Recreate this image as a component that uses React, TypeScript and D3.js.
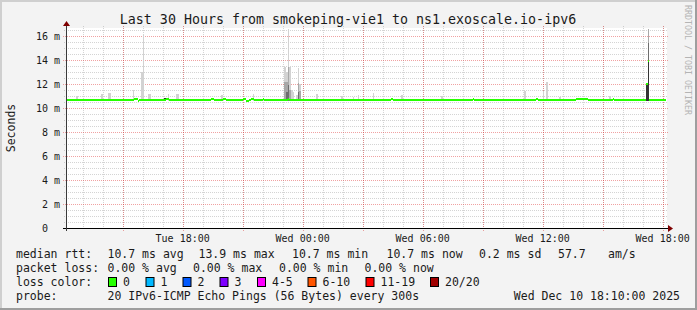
import React from "react";
import * as d3 from "d3";

// ---------- data ----------
const titleText = "Last 30 Hours from smokeping-vie1 to ns1.exoscale.io-ipv6";
const yAxisTitle = "Seconds";
const watermark = "RRDTOOL / TOBI OETIKER";

const startTime = new Date(2025, 11, 9, 12, 10, 0);
const endTime = new Date(2025, 11, 10, 18, 10, 0);
const stepMinutes = 5;
const yMax = 16.6667;

const yTickValues = [0, 2, 4, 6, 8, 10, 12, 14, 16];
const yTickLabels = ["0", "2 m", "4 m", "6 m", "8 m", "10 m", "12 m", "14 m", "16 m"];

const xTickDates = [
  new Date(2025, 11, 9, 18, 0),
  new Date(2025, 11, 10, 0, 0),
  new Date(2025, 11, 10, 6, 0),
  new Date(2025, 11, 10, 12, 0),
  new Date(2025, 11, 10, 18, 0),
];
const xTickLabels = ["Tue 18:00", "Wed 00:00", "Wed 06:00", "Wed 12:00", "Wed 18:00"];

// median rtt (ms), run-length encoded: [number of 5-minute steps, value]
const medianRuns: [number, number][] = [
  [41, 10.7], [2, 10.78], [1, 10.62], [16, 10.7], [2, 10.78], [25, 10.7], [2, 10.78],
  [5, 10.7], [2, 10.78], [10, 10.7], [2, 10.78], [2, 10.62], [1, 10.7], [2, 10.78],
  [5, 10.7], [1, 10.78], [14, 10.7], [1, 10.78], [61, 10.7], [1, 10.78], [48, 10.7],
  [1, 10.78], [37, 10.7], [1, 10.78], [23, 10.7], [7, 10.78], [15, 10.7], [1, 10.78],
  [19, 10.7], [1, 12.0], [1, 13.9], [10, 10.7],
];

// smoke (ms): step index and ping-spread quantile tops
const smokeLow = 10.62;
const smokeStep = [6, 21, 25, 26, 40, 45, 46, 49, 50, 59, 61, 66, 67, 93, 112, 131, 132, 133, 134, 135, 136, 138, 139, 140, 150, 165, 172, 175, 184, 201, 225, 275, 286, 288, 296, 326, 348, 349];
const smokeMax = [11.0, 11.2, 11.25, 11.25, 11.5, 13.0, 16.1, 11.2, 11.2, 10.85, 11.15, 11.15, 11.15, 11.1, 11.15, 13.45, 13.0, 16.6, 13.45, 11.5, 11.3, 11.1, 13.3, 12.0, 11.2, 11.0, 10.95, 11.1, 11.25, 11.1, 11.0, 11.45, 11.4, 12.2, 10.95, 11.0, 12.05, 16.6];
const smokeP90 = [0, 0, 0, 0, 0, 0, 0, 0, 0, 0, 0, 0, 0, 0, 0, 12.2, 12.2, 13.45, 11.5, 0, 0, 0, 12.05, 11.4, 0, 0, 0, 0, 0, 0, 0, 0, 0, 0, 0, 0, 12.05, 16.6];
const smokeP75 = [0, 0, 0, 0, 0, 0, 0, 0, 0, 0, 0, 0, 0, 0, 0, 0, 11.3, 11.9, 0, 0, 0, 0, 11.3, 0, 0, 0, 0, 0, 0, 0, 0, 0, 0, 0, 0, 0, 12.05, 15.4];
const smokeP50 = [0, 0, 0, 0, 0, 0, 0, 0, 0, 10.85, 0, 0, 0, 0, 0, 0, 0, 0, 0, 0, 0, 0, 0, 0, 0, 0, 0, 0, 0, 0, 0, 0, 0, 0, 0, 0, 12.05, 13.9];

const legendRtt = ["10.7 ms avg", "13.9 ms max", "10.7 ms min", "10.7 ms now", "0.2 ms sd", "57.7", "am/s"];
const legendLoss = ["0.00 % avg", "0.00 % max", "0.00 % min", "0.00 % now"];
const lossLabels = ["0", "1", "2", "3", "4-5", "6-10", "11-19", "20/20"];
const lossColors = ["#26ff00", "#00b8ff", "#0059ff", "#7e00ff", "#ff00ff", "#ff5500", "#ff0000", "#a00000"];
const probeText = "20 IPv6-ICMP Echo Pings (56 Bytes) every 300s";
const dateText = "Wed Dec 10 18:10:00 2025";

// ---------- layout ----------
const W = 697, H = 310;
const PL = 66, PR = 666, PT = 28, PB = 228;
const MONO = "'DejaVu Sans Mono', monospace";

const rttX = [107.5, 198.5, 292, 386.5, 479, 558, 608];
const lossX = [107.5, 193, 279, 364.5];
const boxX = [108, 145.5, 182.5, 219.5, 257, 307.5, 365.5, 430];
const rowY = [258, 272, 286, 300];

export default function App() {
  const x = d3.scaleTime().domain([startTime, endTime]).range([PL, PR]);
  const y = d3.scaleLinear().domain([0, yMax]).range([PB, PT]);
  const stepT = (i: number) => d3.timeMinute.offset(startTime, i * stepMinutes);

  const median: number[] = [];
  medianRuns.forEach(([n, v]) => { for (let k = 0; k < n; k++) median.push(v); });

  const minorX = d3.timeHour.every(1)!.range(d3.timeMinute.offset(startTime, 1), endTime);
  const majorX = d3.timeHour.every(3)!.range(d3.timeMinute.offset(startTime, 1), endTime);
  const minorY = d3.range(1, 34).map((k) => k * 0.5).filter((v) => v % 2 !== 0 && v < yMax);

  const bandColors = ["#d2d2d2", "#a8a8a8", "#6e6e6e", "#343434"];
  const bands = [smokeMax, smokeP90, smokeP75, smokeP50];

  return (
    <svg width={W} height={H} style={{ position: "absolute", left: 0, top: 0 }} fontFamily={MONO}>
      <rect x={0} y={0} width={W} height={H} fill="#f3f3f3" />
      <rect x={0} y={0} width={W} height={2} fill="#cfcfcf" />
      <rect x={0} y={0} width={2} height={H} fill="#cfcfcf" />
      <rect x={W - 2} y={0} width={2} height={H} fill="#9e9e9e" />
      <rect x={0} y={H - 2} width={W} height={2} fill="#9e9e9e" />

      <rect x={PL} y={PT} width={PR - PL + 1} height={PB - PT} fill="#ffffff" />

      {/* minor grid */}
      <g stroke="#8f8f8f" strokeOpacity={0.38} strokeDasharray="1 1" shapeRendering="crispEdges">
        {minorY.map((v, k) => (
          <line key={"my" + k} x1={PL - 2} x2={PR + 2} y1={Math.round(y(v)) + 0.5} y2={Math.round(y(v)) + 0.5} />
        ))}
        {minorX.map((t, k) => (
          <line key={"mx" + k} x1={Math.round(x(t)) + 0.5} x2={Math.round(x(t)) + 0.5} y1={PT - 2} y2={PB + 2} />
        ))}
      </g>
      {/* major grid */}
      <g stroke="#de3030" strokeOpacity={0.45} strokeDasharray="1 1" shapeRendering="crispEdges">
        {yTickValues.slice(1).map((v, k) => (
          <line key={"My" + k} x1={PL - 3} x2={PR + 2} y1={Math.round(y(v)) + 0.5} y2={Math.round(y(v)) + 0.5} />
        ))}
        {majorX.map((t, k) => (
          <line key={"Mx" + k} x1={Math.round(x(t)) + 0.5} x2={Math.round(x(t)) + 0.5} y1={PT - 2} y2={PB + 3} />
        ))}
      </g>

      {/* smoke */}
      <g shapeRendering="crispEdges">
        {bands.map((arr, b) =>
          smokeStep.map((s, k) =>
            arr[k] > smokeLow ? (
              <rect key={"s" + b + "-" + k} x={x(stepT(s))} width={x(stepT(s + 1)) - x(stepT(s))}
                y={y(arr[k])} height={y(smokeLow) - y(arr[k])} fill={bandColors[b]} />
            ) : null
          )
        )}
      </g>

      {/* median */}
      <g fill="#26ff00" shapeRendering="crispEdges">
        {median.map((v, i) => (
          <rect key={"m" + i} x={x(stepT(i))} width={x(stepT(i + 1)) - x(stepT(i)) + 0.1} y={Math.round(y(v)) - 1} height={2} />
        ))}
      </g>

      {/* axes */}
      <line x1={PL - 3} x2={PR + 4} y1={PB + 0.5} y2={PB + 0.5} stroke="#000" strokeWidth={1} shapeRendering="crispEdges" />
      <line x1={PL + 0.5} x2={PL + 0.5} y1={PB + 3} y2={PT - 3} stroke="#3a3a3a" strokeWidth={1} shapeRendering="crispEdges" />
      <path d={`M${PR + 2},${PB - 3}L${PR + 7},${PB + 0.5}L${PR + 2},${PB + 4}Z`} fill="#7f0000" />
      <path d={`M${PL - 3},${PT - 2}L${PL + 0.5},${PT - 7}L${PL + 4},${PT - 2}Z`} fill="#7f0000" />

      {/* y tick labels */}
      <g fontSize={10} fill="#1a1a1a">
        {yTickValues.map((v, k) => (
          <text key={"yl" + k} x={60 - (yTickLabels[k].includes("m") ? 0 : 12)} y={y(v) + 3.5} textAnchor="end">
            {yTickLabels[k]}
          </text>
        ))}
      </g>
      {/* x tick labels */}
      <g fontSize={10} fill="#1a1a1a">
        {xTickDates.map((t, k) => (
          <text key={"xl" + k} x={x(t)} y={241.5} textAnchor="middle">{xTickLabels[k]}</text>
        ))}
      </g>

      <text x={348} y={24} textAnchor="middle" fontSize={13.3} fill="#1a1a1a">{titleText}</text>
      <text transform={`translate(14.5,${(PT + PB) / 2}) rotate(-90)`} textAnchor="middle" fontSize={11.5} fill="#1a1a1a">{yAxisTitle}</text>
      <text transform={`translate(685,60) rotate(90)`} textAnchor="middle" fontSize={8.3} fill="#b4b4b4">{watermark}</text>

      {/* legend */}
      <g fontSize={11.5} fill="#1a1a1a">
        <text x={16} y={rowY[0]}>median rtt:</text>
        {legendRtt.map((s, k) => <text key={"r" + k} x={rttX[k]} y={rowY[0]}>{s}</text>)}
        <text x={16} y={rowY[1]}>packet loss:</text>
        {legendLoss.map((s, k) => <text key={"l" + k} x={lossX[k]} y={rowY[1]}>{s}</text>)}
        <text x={16} y={rowY[2]}>loss color:</text>
        {lossLabels.map((s, k) => (
          <g key={"c" + k}>
            <rect x={boxX[k] + 0.5} y={277.5} width={8} height={9} fill={lossColors[k]} stroke="#000" strokeWidth={1} />
            <text x={boxX[k] + 15} y={rowY[2]}>{s}</text>
          </g>
        ))}
        <text x={16} y={rowY[3]}>probe:</text>
        <text x={107.5} y={rowY[3]}>{probeText}</text>
        <text x={680} y={rowY[3]} textAnchor="end">{dateText}</text>
      </g>
    </svg>
  );
}
